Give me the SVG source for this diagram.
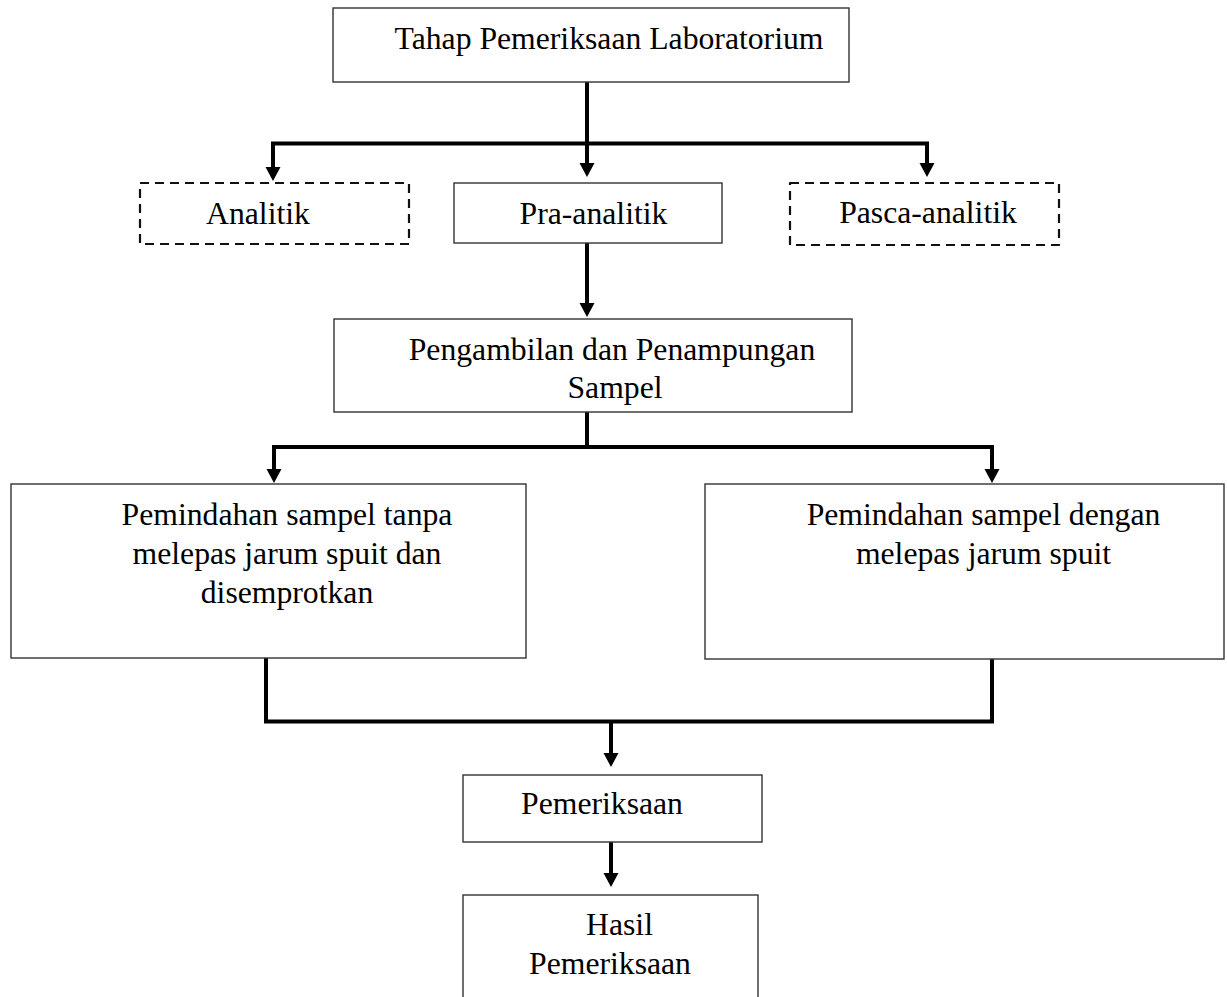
<svg xmlns="http://www.w3.org/2000/svg" width="1227" height="997" viewBox="0 0 1227 997">
<style>
  .box { fill: #ffffff; stroke: #333333; stroke-width: 1.4; }
  .dash { fill: #ffffff; stroke: #111111; stroke-width: 2.2; stroke-dasharray: 9 6; stroke-linejoin: round; }
  .lbl { font-family: "Liberation Serif", "Times New Roman", serif; font-size: 31.7px; fill: #000000; text-anchor: middle; }
  .conn { fill: none; stroke: #000000; stroke-width: 4; stroke-linejoin: miter; }
</style>
<defs>
  <marker id="arr" markerUnits="userSpaceOnUse" markerWidth="15" markerHeight="16" refX="0" refY="7.5" orient="auto" overflow="visible">
    <path d="M0,0 L14,7.5 L0,15 Z" fill="#000000"/>
  </marker>
</defs>
<rect width="1227" height="997" fill="#ffffff"/>

<g id="connectors">
  <path class="conn" d="M587,82 V163" marker-end="url(#arr)"/>
  <path class="conn" d="M273,167 V143.5 H927 V163" marker-end="url(#arr)"/>
  <path class="conn" d="M273,145 V167" marker-end="url(#arr)"/>
  <path class="conn" d="M587,243 V303" marker-end="url(#arr)"/>
  <path class="conn" d="M587,412 V447"/>
  <path class="conn" d="M274,469 V447 H992 V469" marker-end="url(#arr)"/>
  <path class="conn" d="M274,449 V469" marker-end="url(#arr)"/>
  <path class="conn" d="M266,658 V721.5 H992 V659"/>
  <path class="conn" d="M611,721.5 V753" marker-end="url(#arr)"/>
  <path class="conn" d="M611,842 V873" marker-end="url(#arr)"/>
</g>

<g id="node-tahap">
  <rect class="box" x="333" y="8" width="516" height="74"/>
  <text class="lbl" x="609" y="49">Tahap Pemeriksaan Laboratorium</text>
</g>
<g id="node-analitik">
  <rect class="dash" x="140" y="183" width="269" height="61"/>
  <text class="lbl" x="258" y="224">Analitik</text>
</g>
<g id="node-pra-analitik">
  <rect class="box" x="454" y="183" width="268" height="60"/>
  <text class="lbl" x="593.5" y="224">Pra-analitik</text>
</g>
<g id="node-pasca-analitik">
  <rect class="dash" x="790" y="183" width="269" height="62"/>
  <text class="lbl" x="928" y="223">Pasca-analitik</text>
</g>
<g id="node-pengambilan">
  <rect class="box" x="334" y="319" width="518" height="93"/>
  <text class="lbl" x="612" y="360">Pengambilan dan Penampungan</text>
  <text class="lbl" x="615" y="398">Sampel</text>
</g>
<g id="node-tanpa">
  <rect class="box" x="11" y="484" width="515" height="174"/>
  <text class="lbl" x="287" y="525">Pemindahan sampel tanpa</text>
  <text class="lbl" x="287" y="564">melepas jarum spuit dan</text>
  <text class="lbl" x="287" y="603">disemprotkan</text>
</g>
<g id="node-dengan">
  <rect class="box" x="705" y="484" width="519" height="175"/>
  <text class="lbl" x="983.5" y="525">Pemindahan sampel dengan</text>
  <text class="lbl" x="983.5" y="564">melepas jarum spuit</text>
</g>
<g id="node-pemeriksaan">
  <rect class="box" x="463" y="775" width="299" height="67"/>
  <text class="lbl" x="602" y="814">Pemeriksaan</text>
</g>
<g id="node-hasil">
  <rect class="box" x="463" y="895" width="295" height="120"/>
  <text class="lbl" x="619.5" y="935">Hasil</text>
  <text class="lbl" x="610" y="974">Pemeriksaan</text>
</g>
</svg>
